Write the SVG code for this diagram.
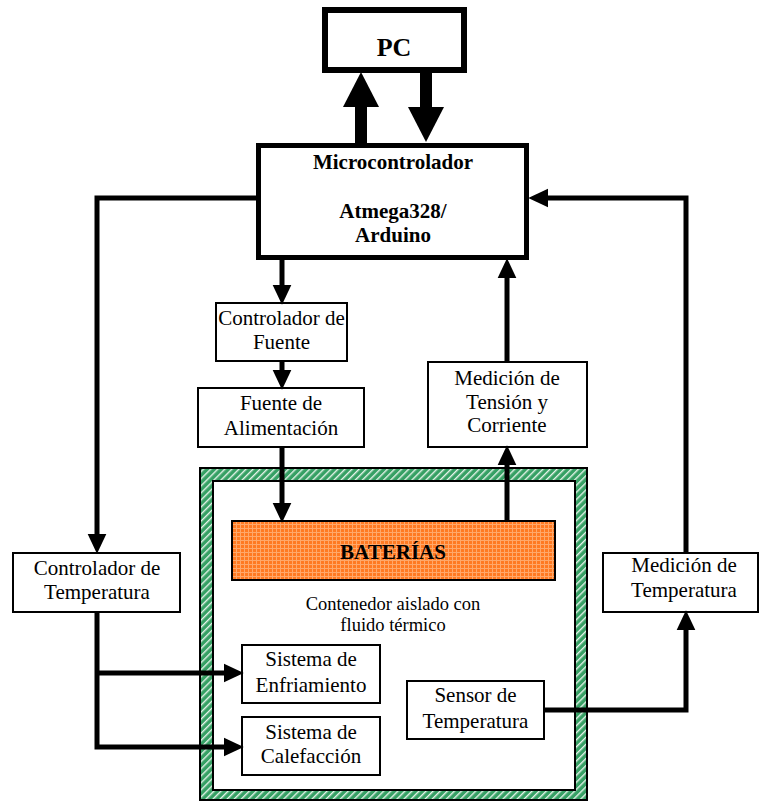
<svg xmlns="http://www.w3.org/2000/svg" width="759" height="801" viewBox="0 0 759 801">
<style>
  .box { fill: #ffffff; stroke: #000000; stroke-width: 2; }
  .thick { fill: #ffffff; stroke: #000000; stroke-width: 5; }
  .t { font-family: "Liberation Serif", "Times New Roman", serif; font-size: 21px; fill: #000; text-anchor: middle; }
  .b { font-family: "Liberation Serif", "Times New Roman", serif; font-size: 21px; font-weight: bold; fill: #000; text-anchor: middle; }
  .s { font-family: "Liberation Serif", "Times New Roman", serif; font-size: 18.5px; fill: #000; text-anchor: middle; }
  .c { fill: none; stroke: #000; stroke-width: 5; stroke-linejoin: miter; }
  .big { fill: none; stroke: #000; stroke-width: 12; }
</style>
<defs>
  <pattern id="hatch" width="5" height="5" patternUnits="userSpaceOnUse" patternTransform="rotate(45)">
    <rect width="5" height="5" fill="#36a064"/>
    <rect x="0" y="0" width="1.4" height="5" fill="#e6f3ea"/>
  </pattern>
  <pattern id="grid" width="4" height="4" patternUnits="userSpaceOnUse">
    <rect width="4" height="4" fill="#ff7a22"/>
    <rect x="0" y="0" width="1" height="4" fill="#ffa86a"/>
    <rect x="0" y="0" width="4" height="1" fill="#ffa86a"/>
  </pattern>
  <marker id="ah" markerUnits="userSpaceOnUse" markerWidth="20" markerHeight="20" viewBox="0 0 18 17" refX="2" refY="8.5" orient="auto">
    <path d="M0,0 L18,8.5 L0,17 z" fill="#000"/>
  </marker>
  <marker id="bh" markerUnits="userSpaceOnUse" markerWidth="36" markerHeight="36" viewBox="0 0 34 35" refX="2" refY="17.5" orient="auto">
    <path d="M0,0 L34,17.5 L0,35 z" fill="#000"/>
  </marker>
</defs>

<g id="contenedor">
  <rect x="200" y="468" width="387" height="332" fill="url(#hatch)" stroke="#000" stroke-width="2"/>
  <rect x="213" y="481" width="362" height="309" fill="#fff" stroke="#000" stroke-width="2"/>
  <text class="s" x="393" y="610">Contenedor aislado con</text>
  <text class="s" x="393" y="631">fluido térmico</text>
</g>

<g id="pc">
  <rect x="325" y="10" width="139" height="60" fill="#fff" stroke="#000" stroke-width="6"/>
  <text class="b" x="394" y="56" style="font-size:26px">PC</text>
</g>

<g id="microcontrolador">
  <rect class="thick" x="258.5" y="145.5" width="268" height="112"/>
  <text class="b" x="393" y="169">Microcontrolador</text>
  <text class="b" x="393" y="218">Atmega328/</text>
  <text class="b" x="393" y="242">Arduino</text>
</g>

<g id="controlador-fuente">
  <rect class="box" x="216" y="303" width="131" height="58"/>
  <text class="t" x="281.5" y="325">Controlador de</text>
  <text class="t" x="281.5" y="349">Fuente</text>
</g>

<g id="fuente-alimentacion">
  <rect class="box" x="198" y="388" width="166" height="59"/>
  <text class="t" x="281" y="410">Fuente de</text>
  <text class="t" x="281" y="435">Alimentación</text>
</g>

<g id="medicion-tension">
  <rect class="box" x="428" y="362" width="159" height="85"/>
  <text class="t" x="507" y="385">Medición de</text>
  <text class="t" x="507" y="409">Tensión y</text>
  <text class="t" x="507" y="432">Corriente</text>
</g>

<g id="baterias">
  <rect x="232" y="521" width="323" height="59" fill="url(#grid)" stroke="#000" stroke-width="2"/>
  <text class="b" x="393" y="559">BATERÍAS</text>
</g>

<g id="controlador-temperatura">
  <rect class="box" x="13" y="553" width="167" height="59"/>
  <text class="t" x="97" y="575">Controlador de</text>
  <text class="t" x="97" y="599">Temperatura</text>
</g>

<g id="medicion-temperatura">
  <rect class="box" x="603" y="553" width="155" height="59"/>
  <text class="t" x="684" y="572">Medición de</text>
  <text class="t" x="684" y="597">Temperatura</text>
</g>

<g id="sistema-enfriamiento">
  <rect class="box" x="242" y="645" width="138" height="58"/>
  <text class="t" x="311" y="666">Sistema de</text>
  <text class="t" x="311" y="692">Enfriamiento</text>
</g>

<g id="sistema-calefaccion">
  <rect class="box" x="242" y="717" width="138" height="58"/>
  <text class="t" x="311" y="739">Sistema de</text>
  <text class="t" x="311" y="763">Calefacción</text>
</g>

<g id="sensor-temperatura">
  <rect class="box" x="407" y="681" width="137" height="58"/>
  <text class="t" x="475.5" y="702">Sensor de</text>
  <text class="t" x="475.5" y="728">Temperatura</text>
</g>

<g id="connectors">
  <path class="big" d="M426,73 V109" marker-end="url(#bh)"/>
  <path class="big" d="M361,143 V105" marker-end="url(#bh)"/>
  <path class="c" d="M257,198 H97 V536" marker-end="url(#ah)"/>
  <path class="c" d="M282,260 V287" marker-end="url(#ah)"/>
  <path class="c" d="M282,361 V372" marker-end="url(#ah)"/>
  <path class="c" d="M282,447 V505" marker-end="url(#ah)"/>
  <path class="c" d="M507,521 V463" marker-end="url(#ah)"/>
  <path class="c" d="M507,362 V276" marker-end="url(#ah)"/>
  <path class="c" d="M686,553 V198 H546" marker-end="url(#ah)"/>
  <path class="c" d="M544,710 H686 V628" marker-end="url(#ah)"/>
  <path class="c" d="M97,612 V747 H226" marker-end="url(#ah)"/>
  <path class="c" d="M97,673 H226" marker-end="url(#ah)"/>
</g>
</svg>
